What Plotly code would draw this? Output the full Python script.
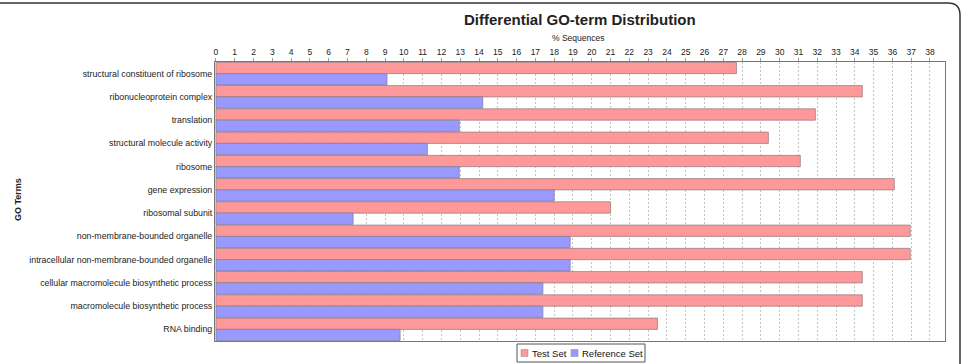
import plotly.graph_objects as go

categories = [
    "structural constituent of ribosome",
    "ribonucleoprotein complex",
    "translation",
    "structural molecule activity",
    "ribosome",
    "gene expression",
    "ribosomal subunit",
    "non-membrane-bounded organelle",
    "intracellular non-membrane-bounded organelle",
    "cellular macromolecule biosynthetic process",
    "macromolecule biosynthetic process",
    "RNA binding",
]
test_set = [27.7, 34.4, 31.9, 29.4, 31.1, 36.1, 21.0, 36.95, 36.95, 34.4, 34.4, 23.5]
reference_set = [9.1, 14.2, 12.95, 11.25, 12.95, 18.0, 7.3, 18.85, 18.85, 17.4, 17.4, 9.8]
x_ticks = list(range(0, 39))
series_names = ["Test Set", "Reference Set"]
series_colors = ["#FF9999", "#9999FF"]

W, H = 973, 364
L, R, T, B = 215, 945, 62, 341

def px(x):
    return (x - L) / (R - L)

def py(y):
    return (B - y) / (B - T)

fig = go.Figure()
fig.add_trace(go.Bar(
    y=categories, x=test_set, orientation="h", name=series_names[0],
    marker=dict(color=series_colors[0], line=dict(color="#9a8288", width=0.8)),
))
fig.add_trace(go.Bar(
    y=categories, x=reference_set, orientation="h", name=series_names[1],
    marker=dict(color=series_colors[1], line=dict(color="#82829a", width=0.8)),
))

fig.update_layout(
    width=W, height=H,
    margin=dict(l=L, r=W - R, t=T, b=H - B, autoexpand=False),
    paper_bgcolor="white", plot_bgcolor="white",
    barmode="group", bargap=0.03, bargroupgap=0.0,
    font=dict(family="Liberation Sans, Arial, sans-serif", color="#222", size=9),
    showlegend=False,
    xaxis=dict(
        side="top", range=[-0.05, 38.8], tickmode="array", tickvals=x_ticks,
        ticktext=[str(v) for v in x_ticks],
        showgrid=True, gridcolor="#c4c4c4", griddash="2px,2px", gridwidth=1,
        showline=True, linecolor="#777", linewidth=1, mirror=True,
        ticks="outside", ticklen=3, tickcolor="#999",
        tickfont=dict(size=8.5, color="#222"), zeroline=False,
    ),
    yaxis=dict(
        autorange="reversed", showline=True, linecolor="#777", linewidth=1,
        mirror=True, tickfont=dict(size=8.8, color="#222"), ticks="",
        showgrid=False,
    ),
)

fig.add_annotation(
    text="<b>Differential GO-term Distribution</b>", xref="paper", yref="paper",
    x=px(580), y=py(20), xanchor="center", yanchor="middle", showarrow=False,
    font=dict(size=15, color="#222"),
)
fig.add_annotation(
    text="% Sequences", xref="paper", yref="paper",
    x=px(578), y=py(38), xanchor="center", yanchor="middle", showarrow=False,
    font=dict(size=8.5, color="#222"),
)
fig.add_annotation(
    text="<b>GO Terms</b>", xref="paper", yref="paper", textangle=-90,
    x=px(18), y=py(200), xanchor="center", yanchor="middle", showarrow=False,
    font=dict(size=9, color="#222"),
)

# manual legend (box, swatches, labels)
fig.add_shape(type="rect", xref="paper", yref="paper",
              x0=px(517), x1=px(645), y0=py(362), y1=py(344),
              line=dict(color="#555", width=1), fillcolor="white")
legend_items = [(521, 530), (571, 580)]
for (sx, tx), name, color in zip(legend_items, series_names, series_colors):
    fig.add_shape(type="rect", xref="paper", yref="paper",
                  x0=px(sx), x1=px(sx + 7), y0=py(356.5), y1=py(349.5),
                  line=dict(color="#888", width=0.5), fillcolor=color)
    fig.add_annotation(text=name, xref="paper", yref="paper",
                       x=px(tx), y=py(353), xanchor="left", yanchor="middle",
                       showarrow=False, font=dict(size=9.5, color="#111"))

# outer rounded panel frame
x0, x1, yt, yb = px(0), px(960), py(3), py(370)
cx = 12 / (R - L)
cy = 12 / (B - T)
fig.add_shape(
    type="path", xref="paper", yref="paper",
    path=f"M {x0},{yt} L {x1 - cx},{yt} Q {x1},{yt} {x1},{yt - cy} L {x1},{yb}",
    line=dict(color="#333", width=1.5),
)

fig.write_html("out.html")
